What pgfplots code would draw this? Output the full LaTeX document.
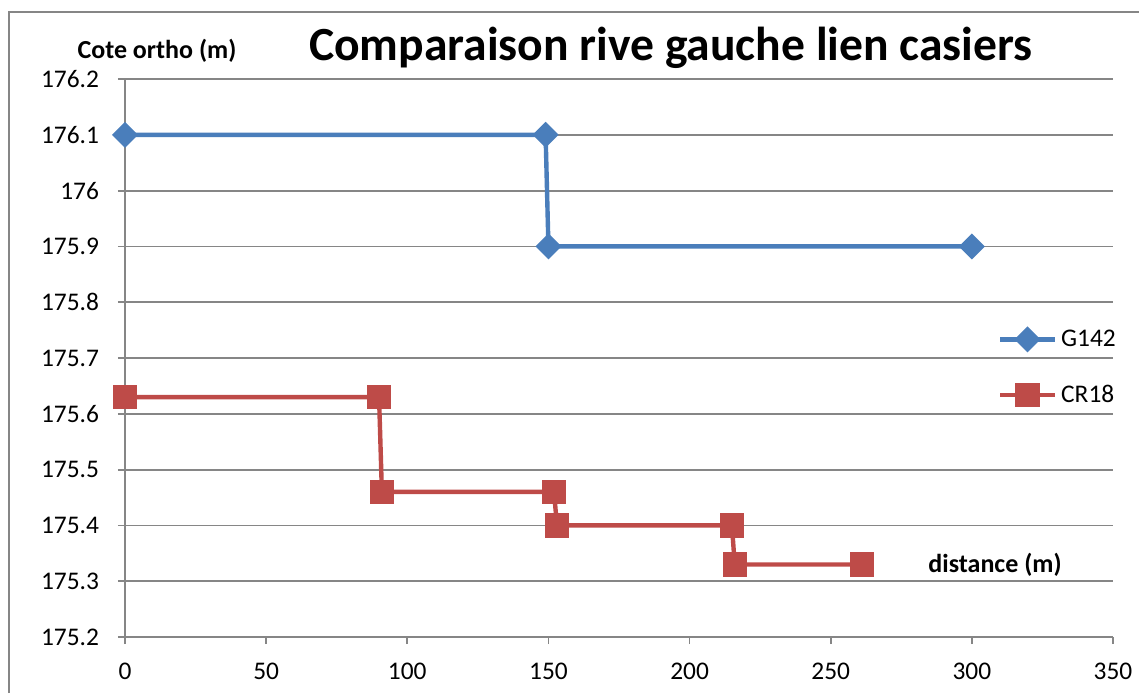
\documentclass[border=0pt]{standalone}
\usepackage{pgfplots}
\pgfplotsset{compat=1.18}
\usepackage{fontspec}
\setmainfont{Carlito}
\definecolor{gblue}{HTML}{4A7EBB}
\definecolor{gred}{HTML}{BE4B48}
\definecolor{ggrid}{HTML}{868686}
\begin{document}
\begin{tikzpicture}
\begin{scope}[x=0.5pt,y=-0.5pt]
\useasboundingbox (0,0) rectangle (1139,693);
\draw[ggrid, line width=1pt] (9,693) -- (9,12) -- (1139,12);
\node[font=\fontsize{23.8}{28}\selectfont\bfseries] at (671,48) {Comparaison rive gauche lien casiers};
\node[font=\fontsize{13}{15}\selectfont\bfseries] at (157,51) {Cote ortho (m)};
\node[font=\fontsize{13}{15}\selectfont\bfseries] at (995,565) {distance (m)};
\end{scope}
\begin{axis}[
  at={(62.5pt,-318.5pt)}, anchor=south west,
  scale only axis, width=494pt, height=279pt,
  xmin=0, xmax=350, ymin=175.2, ymax=176.2,
  xtick={0,50,100,150,200,250,300,350},
  ytick={175.2,175.3,175.4,175.5,175.6,175.7,175.8,175.9,176.0,176.1,176.2},
  /pgf/number format/assume math mode=true,
  ticklabel style={font=\fontsize{12.7}{15}\selectfont},
  yticklabel style={/pgf/number format/fixed, /pgf/number format/precision=1, xshift=-6pt},
  xticklabel style={yshift=-6pt},
  axis lines=left, axis line style={-, ggrid, line width=0.9pt},
  ymajorgrids, major grid style={ggrid, line width=0.9pt},
  tick style={ggrid, line width=0.9pt},
  tick align=outside, major tick length=3.5pt,
  legend style={draw=none, fill=none, at={(0.883,0.483)}, anchor=west,
    font=\fontsize{12.7}{15}\selectfont, row sep=14pt, inner sep=0pt},
  legend cell align=left,
  legend image code/.code={\draw[mark repeat=2,mark phase=2] plot coordinates {(0pt,0pt) (13.75pt,0pt) (27.5pt,0pt)};},
]
\addplot[gblue, line width=2.2pt, mark=square*, mark size=3.5pt, mark options={rotate=45, solid, fill=gblue}] coordinates {
(0,176.1) (149,176.1) (150,175.9) (300,175.9)};
\addlegendentry{G142}
\addplot[gred, line width=2.2pt, mark=square*, mark size=5pt, mark options={solid, fill=gred}] coordinates {
(0,175.63) (90,175.63) (91,175.46) (152,175.46) (153,175.40) (215,175.40) (216,175.33) (261,175.33)};
\addlegendentry{CR18}
\end{axis}
\end{tikzpicture}
\end{document}
